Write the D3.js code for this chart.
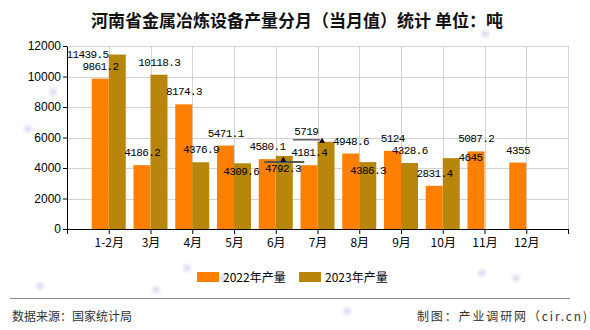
<!DOCTYPE html>
<html><head><meta charset="utf-8">
<script src="https://cdn.jsdelivr.net/npm/d3@7/dist/d3.min.js"></script>
<style>body{margin:0;background:#fff}svg{display:block}</style>
</head><body><svg id="c" width="590" height="330"></svg>
<script>
// ---------- data ----------
const categories = ["1-2月","3月","4月","5月","6月","7月","8月","9月","10月","11月","12月"];
const seriesNames = ["2022年产量","2023年产量"];
const values2022 = [9861.2,4186.2,8174.3,5471.1,4580.1,4181.4,4948.6,5124,2831.4,5087.2,4355];
const values2023 = [11439.5,10118.3,4376.9,4309.6,4792.3,5719,4386.3,4328.6,4645,null,null];
const yTicks = [0,2000,4000,6000,8000,10000,12000];
const titleText = "河南省金属冶炼设备产量分月（当月值）统计 单位：吨";
const sourceText = "数据来源：国家统计局";
const creditText = "制图：产业调研网（cir.cn)";

// ---------- layout / style ----------
const colors = ["#FF8000", "#B8860B"];
const plot = {left: 67, right: 568, top: 46, bottom: 229};
const barW = 17;
const sans = "'Liberation Sans', Arial, 'Noto Sans CJK SC', sans-serif";
const cjk = "'Noto Sans CJK SC', 'Liberation Sans', sans-serif";
const mono = "'Liberation Mono', 'DejaVu Sans Mono', monospace";
// label nudges from the reference's overlap-avoiding layout: [dx, dy]
const labelNudge = {"1|0": [-30, 12], "1|3": [-1.5, 21], "1|4": [-1.5, 25], "1|5": [-20, 2], "1|6": [0, 20.5], "1|8": [19, 12]};

const svg = d3.select("#c");
svg.append("rect").attr("width", 590).attr("height", 330).attr("fill", "#fff");

// faint background decoration dots
const defs = svg.append("defs");
const rg = defs.append("radialGradient").attr("id", "dot");
rg.append("stop").attr("offset", "0%").attr("stop-color", "#cfcfee").attr("stop-opacity", 0.8);
rg.append("stop").attr("offset", "100%").attr("stop-color", "#cfcfee").attr("stop-opacity", 0);
[[53,92],[28,129],[485,34],[40,286],[156,290],[187,268],[222,278],[347,311],[482,273],[516,278]].forEach(p => {
  svg.append("circle").attr("cx", p[0]).attr("cy", p[1]).attr("r", 6).attr("fill", "url(#dot)");
});

const series = [values2022, values2023];
const x = d3.scaleLinear().domain([-1, categories.length]).range([plot.left, plot.right]);
const y = d3.scaleLinear().domain([0, 12000]).range([plot.bottom, plot.top]);
const xTickIdx = d3.range(-1, categories.length + 1);

// grid
const grid = svg.append("g").attr("stroke", "#d3d3d3").attr("stroke-width", 1);
grid.selectAll("line.h").data(yTicks).join("line").attr("class", "h")
  .attr("x1", plot.left).attr("x2", plot.right)
  .attr("y1", d => Math.round(y(d)) + 0.5).attr("y2", d => Math.round(y(d)) + 0.5);
grid.selectAll("line.v").data(xTickIdx).join("line").attr("class", "v")
  .attr("x1", d => Math.round(x(d)) + 0.5).attr("x2", d => Math.round(x(d)) + 0.5)
  .attr("y1", plot.top).attr("y2", plot.bottom);

// bars
series.forEach((vals, s) => {
  svg.append("g").selectAll("rect")
    .data(vals.map((v, i) => ({v, i})).filter(d => d.v != null))
    .join("rect")
    .attr("x", d => x(d.i) + (s === 0 ? -barW : 0))
    .attr("y", d => y(d.v))
    .attr("width", barW)
    .attr("height", d => y(0) - y(d.v))
    .attr("fill", colors[s]);
});

// axes
const yAxis = svg.append("g").attr("transform", `translate(${plot.left},0)`)
  .call(d3.axisLeft(y).tickValues(yTicks).tickFormat(d3.format("d")).tickSizeInner(4).tickSizeOuter(0).tickPadding(2));
yAxis.selectAll("text").attr("font-family", sans).attr("font-size", 12).attr("fill", "#000");
yAxis.selectAll("path,line").attr("stroke", "#000");

const xAxis = svg.append("g").attr("transform", `translate(0,${plot.bottom})`)
  .call(d3.axisBottom(x).tickValues(xTickIdx).tickFormat(i => categories[i] || "").tickSizeInner(5).tickSizeOuter(0).tickPadding(4));
xAxis.selectAll("text").attr("font-family", cjk).attr("font-size", 12).attr("fill", "#000");
xAxis.selectAll("path,line").attr("stroke", "#000");

// leaders (label guide marks from the reference)
function leader(s, i, kind) {
  const cx = x(i) + (s === 0 ? -barW / 2 : barW / 2);
  const top = y(series[s][i]);
  const g = svg.append("g");
  if (kind === "below") {
    g.append("line").attr("x1", cx - 20).attr("x2", cx + 20).attr("y1", top + 6).attr("y2", top + 6)
      .attr("stroke", "#555").attr("stroke-width", 2);
    g.append("path").attr("d", `M${cx - 1},${top + 0.5} L${cx - 4},${top + 6} L${cx + 2},${top + 6} Z`).attr("fill", "#000");
  } else {
    g.append("line").attr("x1", cx - 33).attr("x2", cx - 6).attr("y1", top - 2).attr("y2", top - 2)
      .attr("stroke", "#666").attr("stroke-width", 1.5);
    g.append("path").attr("d", `M${cx - 4},${top - 4} L${cx - 7},${top + 1} L${cx - 1},${top + 1} Z`).attr("fill", "#000");
  }
}
leader(1, 4, "below");
leader(1, 5, "above");

// value labels
series.forEach((vals, s) => {
  vals.forEach((v, i) => {
    if (v == null) return;
    const n = labelNudge[s + "|" + i] || [0, 0];
    const cx = x(i) + (s === 0 ? -barW / 2 : barW / 2);
    svg.append("text")
      .attr("x", cx + n[0] + 0.3).attr("y", y(v) - 9 + n[1])
      .attr("text-anchor", "middle")
      .attr("font-family", mono).attr("font-size", 11).attr("letter-spacing", "-0.6px")
      .attr("fill", "#000")
      .text(String(v));
  });
});

// title
svg.append("text").attr("x", 297).attr("y", 27).attr("text-anchor", "middle")
  .attr("font-family", cjk).attr("font-size", 17).attr("font-weight", "bold").attr("fill", "#111")
  .text(titleText);

// legend
const legX = [197, 299];
seriesNames.forEach((name, s) => {
  svg.append("rect").attr("x", legX[s]).attr("y", 272).attr("width", 22).attr("height", 10).attr("fill", colors[s]);
  svg.append("text").attr("x", legX[s] + 26).attr("y", 281.5)
    .attr("font-family", cjk).attr("font-size", 12).attr("fill", "#000").text(name);
});

// footer
svg.append("line").attr("x1", 10).attr("x2", 570).attr("y1", 298.5).attr("y2", 298.5).attr("stroke", "#888").attr("stroke-width", 1);
svg.append("text").attr("x", 12).attr("y", 321).attr("font-family", cjk).attr("font-size", 12).attr("fill", "#333").text(sourceText);
svg.append("text").attr("x", 417).attr("y", 321).attr("textLength", 170).attr("lengthAdjust", "spacing")
  .attr("font-family", cjk).attr("font-size", 12).attr("fill", "#333").text(creditText);
</script>
</body></html>
